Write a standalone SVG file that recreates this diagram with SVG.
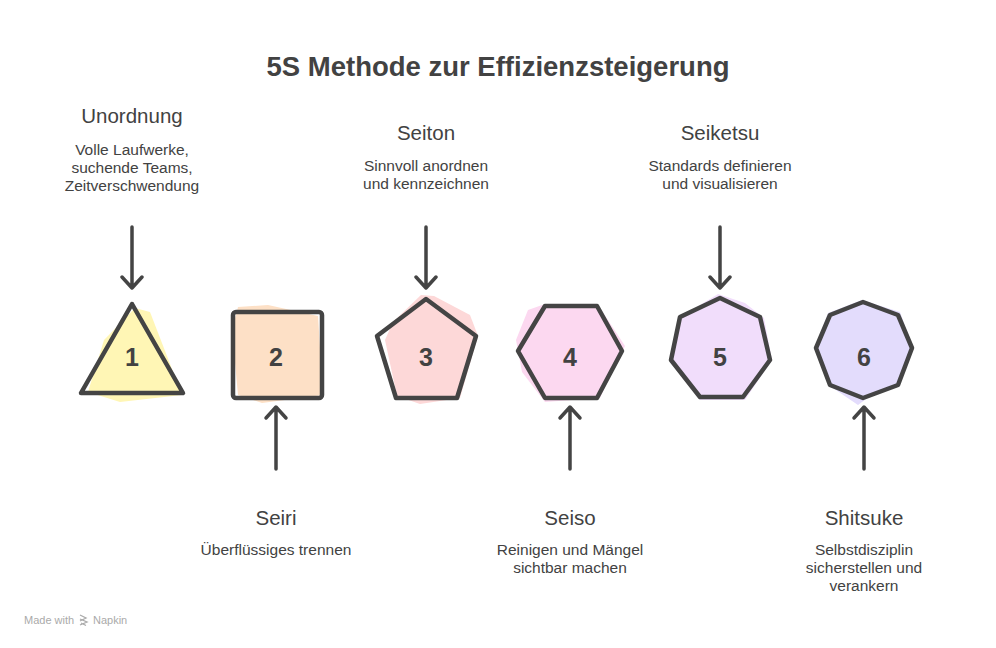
<svg xmlns="http://www.w3.org/2000/svg" width="996" height="648" viewBox="0 0 996 648">
<style>
.title{font-family:"Liberation Sans",Arial,sans-serif;font-size:27.5px;font-weight:700;fill:#424242;text-anchor:middle}
.head{font-family:"Liberation Sans",Arial,sans-serif;font-size:20.5px;fill:#424242;text-anchor:middle}
.desc{font-family:"Liberation Sans",Arial,sans-serif;font-size:15.5px;fill:#424242;text-anchor:middle}
.num{font-family:"Liberation Sans",Arial,sans-serif;font-size:25px;font-weight:700;fill:#424242;text-anchor:middle}
.shape{fill:none;stroke:#444;stroke-width:4.5;stroke-linejoin:round}
.arrow{fill:none;stroke:#444;stroke-width:3.5;stroke-linecap:round;stroke-linejoin:round}
.foot{font-family:"Liberation Sans",Arial,sans-serif;font-size:11px;fill:#aaa}
</style>
<rect width="996" height="648" fill="#fff"/>
<text class="title" x="498" y="76">5S Methode zur Effizienzsteigerung</text>

<g id="connectors">
<path class="arrow" d="M132 227 V287 M122 277 L132 288 L142 277"/>
<path class="arrow" d="M426 227 V287 M416 277 L426 288 L436 277"/>
<path class="arrow" d="M720 227 V287 M710 277 L720 288 L730 277"/>
<path class="arrow" d="M276 469 V408 M266 418 L276 407 L286 418"/>
<path class="arrow" d="M570 469 V408 M560 418 L570 407 L580 418"/>
<path class="arrow" d="M864 469 V408 M854 418 L864 407 L874 418"/>
</g>

<g id="node-unordnung">
<text class="head" x="132" y="123">Unordnung</text>
<text class="desc" x="132" y="155">Volle Laufwerke,</text>
<text class="desc" x="132" y="173">suchende Teams,</text>
<text class="desc" x="132" y="191">Zeitverschwendung</text>
</g>

<g id="node-1">
<polygon points="135,308 150,312 182,395 120,402 88,392 104,340" fill="#fff6b5"/>
<polygon class="shape" points="132,304 183,393 81,393"/>
<text class="num" x="132" y="366">1</text>
</g>

<g id="node-2">
<polygon points="238,307 268,305 318,316 323,395 262,403 238,395 232,330" fill="#fde0c6"/>
<rect class="shape" x="233" y="312" width="89" height="86" rx="3"/>
<text class="num" x="276" y="366">2</text>
</g>

<g id="node-3">
<polygon points="421,295 434,296 470,315 478,336 460,398 420,404 397,396 385,340 393,322" fill="#fdd8d8"/>
<polygon class="shape" points="426,299 476,336 457,398 396,398 377,336"/>
<text class="num" x="426" y="366">3</text>
</g>

<g id="node-4">
<polygon points="528,310 545,304 600,308 625,346 618,360 600,398 545,402 522,372 516,340" fill="#fcd8f0"/>
<polygon class="shape" points="545,306 597,306 622,351 597,398 545,398 518,351"/>
<text class="num" x="570" y="366">4</text>
</g>

<g id="node-5">
<polygon points="718,294 745,303 764,318 772,360 745,400 700,400 670,362 678,318 700,305" fill="#f1ddfb"/>
<polygon class="shape" points="720,298 760,317 770,360 743,397 700,397 671,360 680,317"/>
<text class="num" x="720" y="366">5</text>
</g>

<g id="node-6">
<polygon points="862,300 900,312 913,348 898,386 870,396 858,405 830,386 816,345 828,313" fill="#e3dcfc"/>
<polygon class="shape" points="863,302 898,315 912,348 898,385 863,398 830,385 816,348 830,315"/>
<text class="num" x="864" y="366">6</text>
</g>

<g id="node-seiton">
<text class="head" x="426" y="140">Seiton</text>
<text class="desc" x="426" y="171">Sinnvoll anordnen</text>
<text class="desc" x="426" y="189">und kennzeichnen</text>
</g>

<g id="node-seiketsu">
<text class="head" x="720" y="140">Seiketsu</text>
<text class="desc" x="720" y="171">Standards definieren</text>
<text class="desc" x="720" y="189">und visualisieren</text>
</g>

<g id="node-seiri">
<text class="head" x="276" y="525">Seiri</text>
<text class="desc" x="276" y="555">Überflüssiges trennen</text>
</g>

<g id="node-seiso">
<text class="head" x="570" y="525">Seiso</text>
<text class="desc" x="570" y="555">Reinigen und Mängel</text>
<text class="desc" x="570" y="573">sichtbar machen</text>
</g>

<g id="node-shitsuke">
<text class="head" x="864" y="525">Shitsuke</text>
<text class="desc" x="864" y="555">Selbstdisziplin</text>
<text class="desc" x="864" y="573">sicherstellen und</text>
<text class="desc" x="864" y="591">verankern</text>
</g>

<text class="foot" x="24" y="624">Made with</text>
<path d="M80 615 l6 3 l-6 3 M80 619 l7 3 l-7 3 M81 623 l5 2.5" fill="none" stroke="#aaa" stroke-width="1.3"/>
<text class="foot" x="93" y="624">Napkin</text>
</svg>
